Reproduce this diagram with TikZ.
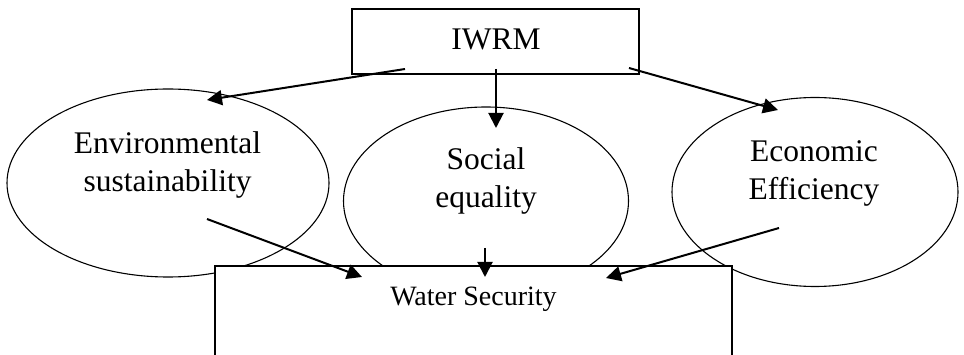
\documentclass[tikz,border=0pt]{standalone}
\usepackage{fontspec}
\setmainfont{Liberation Serif}
\usetikzlibrary{shapes.geometric,arrows.meta}
\begin{document}
\begin{tikzpicture}[x=1pt,y=-1pt,
  ell/.style={draw,ellipse,line width=1.1pt,inner sep=0pt},
  bx/.style={draw,rectangle,line width=1.3pt,inner sep=0pt,fill=white},
  lbl/.style={font=\fontsize{31.5}{37.5}\selectfont,align=center,inner sep=0pt},
  wslbl/.style={font=\fontsize{28}{33}\selectfont,inner sep=0pt},
  arr/.style={line width=2pt,-{Triangle[length=15pt,width=15pt]}}]
\useasboundingbox (0,0) rectangle (964,355);
\clip (0,0) rectangle (964,355);
% ellipses
\node[ell,minimum width=322pt,minimum height=188pt] (env) at (168,183) {};
\node[ell,minimum width=285pt,minimum height=188pt] (soc) at (486,201) {};
\node[ell,minimum width=286pt,minimum height=189pt] (eco) at (815,192) {};
% water security box (bottom runs off the page)
\node[bx,minimum width=517pt,minimum height=110pt] (ws) at (473.5,321) {};
% IWRM box
\node[bx,minimum width=287pt,minimum height=65pt] (iwrm) at (495.5,41.5) {};
% labels
\node[lbl,anchor=base] (iwrmtxt) at (496,50) {IWRM};
\node[lbl] (envtxt) at (167.5,165) {Environmental\\sustainability};
\node[lbl] (soctxt) at (486,181) {Social\\equality};
\node[lbl] (ecotxt) at (814,173.5) {Economic\\Efficiency};
\node[wslbl,anchor=base] (wstxt) at (473.5,306) {Water Security};
% arrow endpoints
\coordinate (a1s) at (405,69);  \coordinate (a1e) at (207,100);
\coordinate (a2s) at (496,69);  \coordinate (a2e) at (496,128);
\coordinate (a3s) at (629,68);  \coordinate (a3e) at (778,110);
\coordinate (b1s) at (207,219); \coordinate (b1e) at (362,277);
\coordinate (b2s) at (485,248); \coordinate (b2e) at (485,277);
\coordinate (b3s) at (779,228); \coordinate (b3e) at (606,278);
\draw[arr] (a1s) -- (a1e);
\draw[arr] (a2s) -- (a2e);
\draw[arr] (a3s) -- (a3e);
\draw[arr] (b1s) -- (b1e);
\draw[arr] (b2s) -- (b2e);
\draw[arr] (b3s) -- (b3e);
\end{tikzpicture}
\end{document}
